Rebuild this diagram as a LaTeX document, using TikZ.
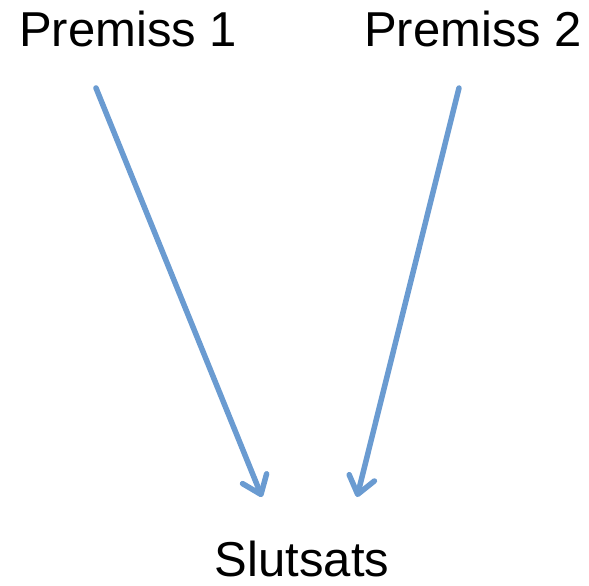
\documentclass[tikz,border=0pt]{standalone}
\usepackage{fontspec}
\setmainfont{Liberation Sans}
\usetikzlibrary{arrows.meta}
\definecolor{arrowblue}{HTML}{6A9BD1}
\tikzset{
  lbl/.style={anchor=base, inner sep=0pt, font=\fontsize{49}{56}\selectfont},
  conn/.style={draw=arrowblue, line width=5.5pt, line cap=round,
    -{Straight Barb[length=17pt, width=26pt, line cap=round, line join=round]}}
}
\begin{document}
\begin{tikzpicture}[x=1pt,y=-1pt]
\useasboundingbox (0,0) rectangle (589,586);
\node[lbl] (p1) at (128,47) {Premiss 1};
\node[lbl] (p2) at (473,47) {Premiss 2};
\node[lbl] (s) at (302,576) {Slutsats};
\coordinate (a1s) at (96,88);
\coordinate (a1e) at (262,497);
\coordinate (a2s) at (459,88);
\coordinate (a2e) at (357,497);
\draw[conn] (a1s) -- (a1e);
\draw[conn] (a2s) -- (a2e);
\end{tikzpicture}
\end{document}
